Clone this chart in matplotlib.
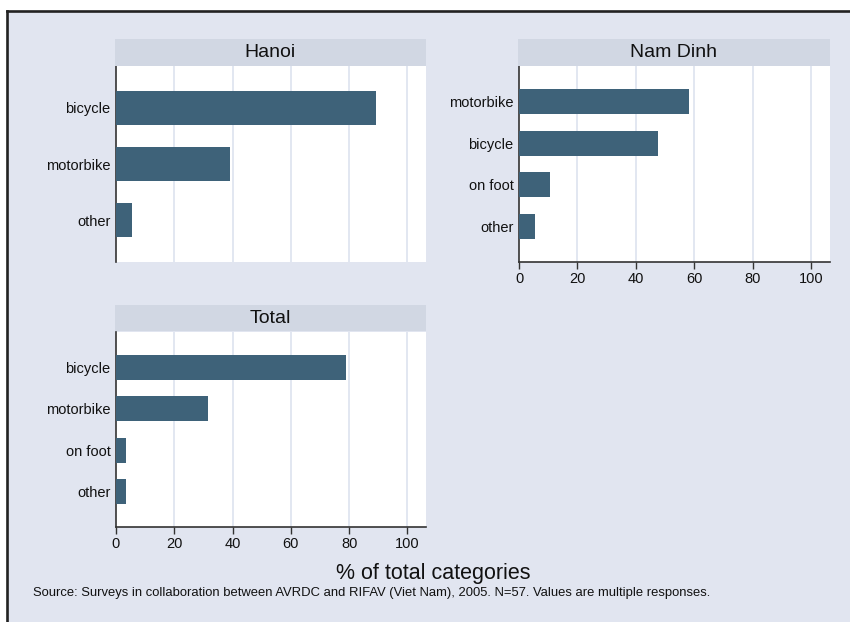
import matplotlib
matplotlib.use("Agg")
import matplotlib.pyplot as plt
from matplotlib.patches import Rectangle
from matplotlib.lines import Line2D

plt.rcParams['font.family'] = ['Liberation Sans', 'DejaVu Sans']

# ---- data ----
hanoi_cats = ["bicycle", "motorbike", "other"]
hanoi_vals = [89.2, 39.2, 5.5]
namdinh_cats = ["motorbike", "bicycle", "on foot", "other"]
namdinh_vals = [58.2, 47.5, 10.7, 5.4]
total_cats = ["bicycle", "motorbike", "on foot", "other"]
total_vals = [79.0, 31.7, 3.6, 3.6]
xticks = [0, 20, 40, 60, 80, 100]
panel_titles = ["Hanoi", "Nam Dinh", "Total"]
xlabel = "% of total categories"
note = ("Source: Surveys in collaboration between AVRDC and RIFAV (Viet Nam), 2005. "
        "N=57. Values are multiple responses.")

W, H = 850, 622
BG = '#e1e5f0'
STRIP = '#d1d7e3'
BAR = '#3e6279'
GRID = '#dde3ef'
AX = '#333333'

fig = plt.figure(figsize=(W / 100, H / 100), dpi=100)
fig.patch.set_facecolor('white')

def fx(px):
    return px / W

def fy(py):
    return 1 - py / H

# background panel with dark left/top border
fig.patches.append(Rectangle((fx(7), 0), 1 - fx(7), fy(11), transform=fig.transFigure,
                             facecolor=BG, edgecolor='none', zorder=-10))
fig.lines.append(Line2D([fx(7), fx(7)], [0, fy(11)], transform=fig.transFigure,
                        color='#222222', lw=1.9, zorder=-9))
fig.lines.append(Line2D([fx(7), 1], [fy(11), fy(11)], transform=fig.transFigure,
                        color='#222222', lw=1.9, zorder=-9))

def panel(x0, x1, ytop_strip, ytop, ybot, cats, vals, title, pad, show_x):
    ax = fig.add_axes([fx(x0), fy(ybot), fx(x1) - fx(x0), fy(ytop) - fy(ybot)])
    ax.set_facecolor('white')
    n = len(cats)
    pos = list(range(n))
    ax.barh(pos, vals, height=0.61, color=BAR, zorder=3)
    ax.set_yticks(pos)
    ax.set_yticklabels(cats, fontsize=10.5, color='#111111')
    ax.set_ylim(n - 1 + pad, -pad)
    ax.set_xlim(0, 106.4)
    ax.set_xticks(xticks)
    for t in xticks[1:]:
        ax.axvline(t, color=GRID, lw=1.2, zorder=1)
    ax.tick_params(axis='y', length=0, pad=4)
    for s in ['top', 'right']:
        ax.spines[s].set_visible(False)
    ax.spines['left'].set_color(AX)
    ax.spines['left'].set_linewidth(1.2)
    if show_x:
        ax.spines['bottom'].set_color(AX)
        ax.spines['bottom'].set_linewidth(1.2)
        ax.tick_params(axis='x', length=5, width=1.0, color=AX, labelsize=10.5,
                       labelcolor='#111111', pad=2)
    else:
        ax.spines['bottom'].set_visible(False)
        ax.tick_params(axis='x', length=0, labelbottom=False)
    # title strip
    sax = fig.add_axes([fx(x0 - 1), fy(ytop - 0.5), fx(x1) - fx(x0 - 1),
                        fy(ytop_strip) - fy(ytop - 0.5)])
    sax.set_facecolor(STRIP)
    sax.set_xticks([])
    sax.set_yticks([])
    for s in sax.spines.values():
        s.set_visible(False)
    sax.text(0.5, 0.48, title, ha='center', va='center', fontsize=14,
             color='#111111', transform=sax.transAxes)
    return ax

panel(116, 426, 39, 66, 262, hanoi_cats, hanoi_vals, panel_titles[0], 0.75, False)
panel(519, 830, 39, 66, 262, namdinh_cats, namdinh_vals, panel_titles[1], 0.86, True)
panel(116, 426, 305, 332, 527, total_cats, total_vals, panel_titles[2], 0.86, True)

fig.text(fx(433), fy(574), xlabel, ha='center', va='center', fontsize=15.5, color='#111111')
fig.text(fx(33), fy(593), note, ha='left', va='center', fontsize=9.35, color='#111111')

fig.savefig('out.png', dpi=100, facecolor=fig.get_facecolor())
